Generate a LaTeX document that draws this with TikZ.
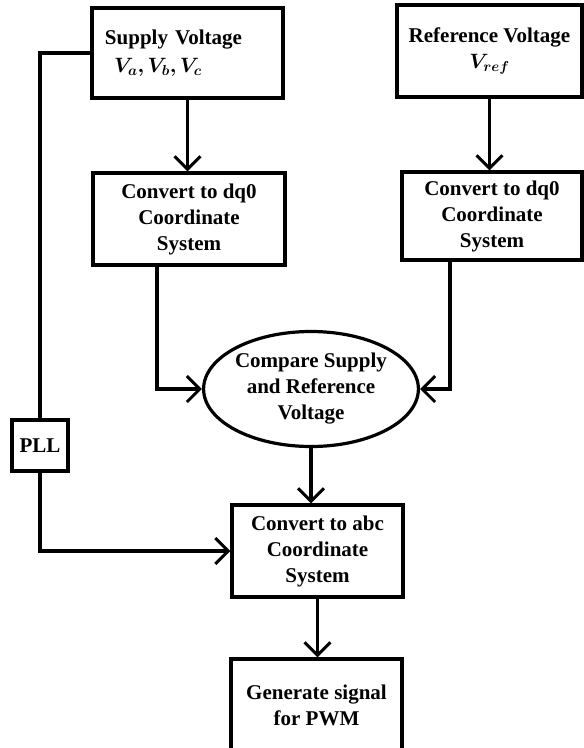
\documentclass[tikz,border=0pt]{standalone}
\usepackage{fontspec}
\usepackage{bm}
\setmainfont{Liberation Serif}
\usetikzlibrary{arrows.meta,positioning,shapes.geometric}

\begin{document}
\begin{tikzpicture}[
  x=1pt, y=-1pt,
  font=\fontsize{21}{26}\selectfont\bfseries,
  box/.style={draw, line width=3.2pt, align=center, inner sep=0pt},
  oval/.style={draw, ellipse, line width=3.2pt, align=center, inner sep=0pt},
  arrow/.style={-{Straight Barb[length=13pt, width=26pt, line width=3pt]}, line width=3.2pt},
  wire/.style={line width=3.2pt}
]
\useasboundingbox (0,0) rectangle (584,748);

\node[box, minimum width=191pt, minimum height=90pt, text width=191pt, align=left] (supply) at (187.5,53)
  {\hspace*{13pt}Supply Voltage\\[2pt]\hspace*{22pt}$\bm{V_a, V_b, V_c}$\\[4pt]};
\node[box, minimum width=185pt, minimum height=92pt] (refv) at (489.5,51)
  {Reference Voltage\\$\bm{V_{ref}}$};

\node[box, minimum width=192pt, minimum height=92pt] (dqsup) at (189,219)
  {Convert to dq0\\Coordinate\\System};
\node[box, minimum width=180pt, minimum height=88pt] (dqref) at (492,216)
  {Convert to dq0\\Coordinate\\System};

\node[oval, minimum width=208pt, minimum height=115pt] (compare) at (311,389)
  {Compare Supply\\and Reference\\Voltage};

\node[box, minimum width=56pt, minimum height=51pt] (pll) at (40,445.5) {PLL};

\node[box, minimum width=171pt, minimum height=92pt] (toabc) at (317.5,551)
  {Convert to abc\\Coordinate\\System};
\node[box, minimum width=171pt, minimum height=93pt] (pwm) at (316.5,705.5)
  {Generate signal\\for PWM};

\draw[arrow] (supply.south) -- (supply.south |- dqsup.north);
\draw[arrow] (refv.south) -- (refv.south |- dqref.north);
\draw[arrow] ([xshift=-32pt]dqsup.south) |- (compare.west);
\draw[arrow] ([xshift=-42pt]dqref.south) |- (compare.east);
\draw[arrow] (compare.south) -- (compare.south |- toabc.north);
\draw[arrow] (toabc.south) -- (toabc.south |- pwm.north);

\draw[wire] (supply.west) -| (pll.north);
\draw[arrow] (pll.south) |- (toabc.west);
\end{tikzpicture}
\end{document}
